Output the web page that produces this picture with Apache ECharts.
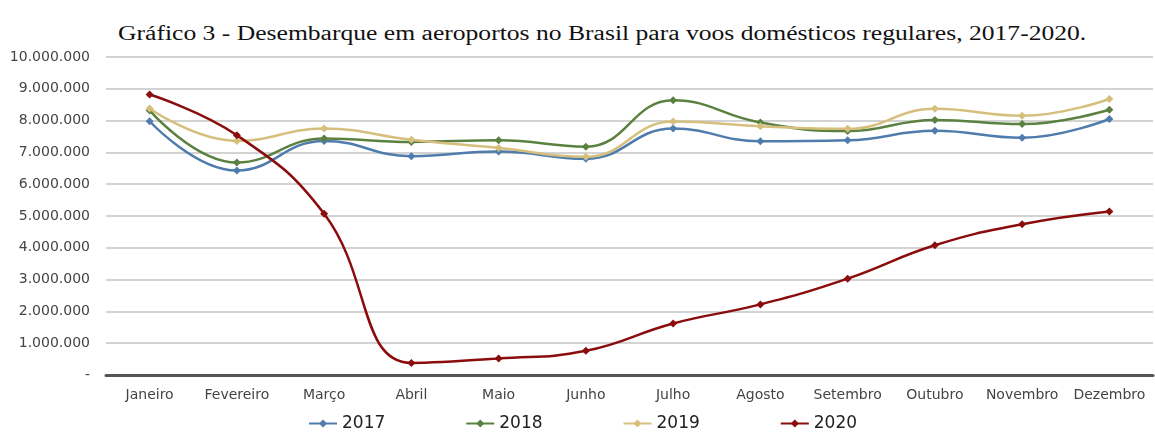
<!DOCTYPE html>
<html>
<head>
<meta charset="utf-8">
<script src="https://cdn.jsdelivr.net/npm/echarts@6/dist/echarts.min.js"></script>
<style>
  html, body { margin: 0; padding: 0; background: #fff; }
  #title { position: absolute; left: 118px; top: 22px; white-space: nowrap;
           transform-origin: 0 0; transform: scaleX(1.28);
           font-family: "Liberation Serif", "DejaVu Serif", serif; font-size: 20px; color: #111; }
  #chart { width: 1155px; height: 444px; }
</style>
</head>
<body>
<div id="title">Gráfico 3 - Desembarque em aeroportos no Brasil para voos domésticos regulares, 2017-2020.</div>
<div id="chart"></div>
<script>
// meses
var meses = ['Janeiro','Fevereiro','Março','Abril','Maio','Junho','Julho','Agosto','Setembro','Outubro','Novembro','Dezembro'];

// desembarques por ano
var y2017 = [7980000, 6430000, 7360000, 6880000, 7030000, 6800000, 7750000, 7350000, 7380000, 7680000, 7460000, 8050000];
var y2018 = [8320000, 6680000, 7440000, 7330000, 7380000, 7180000, 8640000, 7940000, 7670000, 8020000, 7890000, 8340000];
var y2019 = [8380000, 7360000, 7750000, 7400000, 7140000, 6860000, 7970000, 7820000, 7740000, 8370000, 8150000, 8680000];
var y2020 = [8820000, 7540000, 5070000, 380000, 520000, 760000, 1620000, 2220000, 3030000, 4080000, 4740000, 5140000];

var anos = ['2017', '2018', '2019', '2020'];
var cores = ['#4f7cad', '#5b8140', '#d6bf7c', '#8b0c0c'];
var dados = [y2017, y2018, y2019, y2020];

var myChart = echarts.init(document.getElementById('chart'));

var series = [];
for (var i = 0; i < anos.length; i++) {
  series.push({
    name: anos[i],
    type: 'line',
    data: dados[i],
    smooth: 0.45,
    symbol: 'diamond',
    symbolSize: 8,
    lineStyle: { width: 2.5, color: cores[i] },
    itemStyle: { color: cores[i] },
    z: 2 + i
  });
}

var option = {
  animation: false,
  grid: { left: 106, right: 2, top: 57, bottom: 69 },
  legend: {
    data: anos,
    left: 303,
    bottom: 7,
    itemGap: 80,
    itemWidth: 28,
    itemHeight: 10,
    textStyle: { fontSize: 17, color: '#222', fontFamily: 'DejaVu Sans' }
  },
  xAxis: {
    type: 'category',
    data: meses,
    boundaryGap: true,
    axisLine: { lineStyle: { color: '#555', width: 3 } },
    axisTick: { show: false },
    axisLabel: { color: '#444', fontSize: 14, margin: 13, fontFamily: 'DejaVu Sans', interval: 0 }
  },
  yAxis: {
    type: 'value',
    min: 0,
    max: 10000000,
    interval: 1000000,
    axisLine: { show: false },
    axisTick: { show: false },
    splitLine: { lineStyle: { color: '#d3d3d3', width: 2 } },
    axisLabel: {
      color: '#444',
      fontSize: 14,
      margin: 16,
      fontFamily: 'DejaVu Sans',
      formatter: function (v) {
        if (v === 0) return '-';
        return v.toString().replace(/\B(?=(\d{3})+(?!\d))/g, '.');
      }
    }
  },
  series: series
};

myChart.setOption(option);
</script>
</body>
</html>
